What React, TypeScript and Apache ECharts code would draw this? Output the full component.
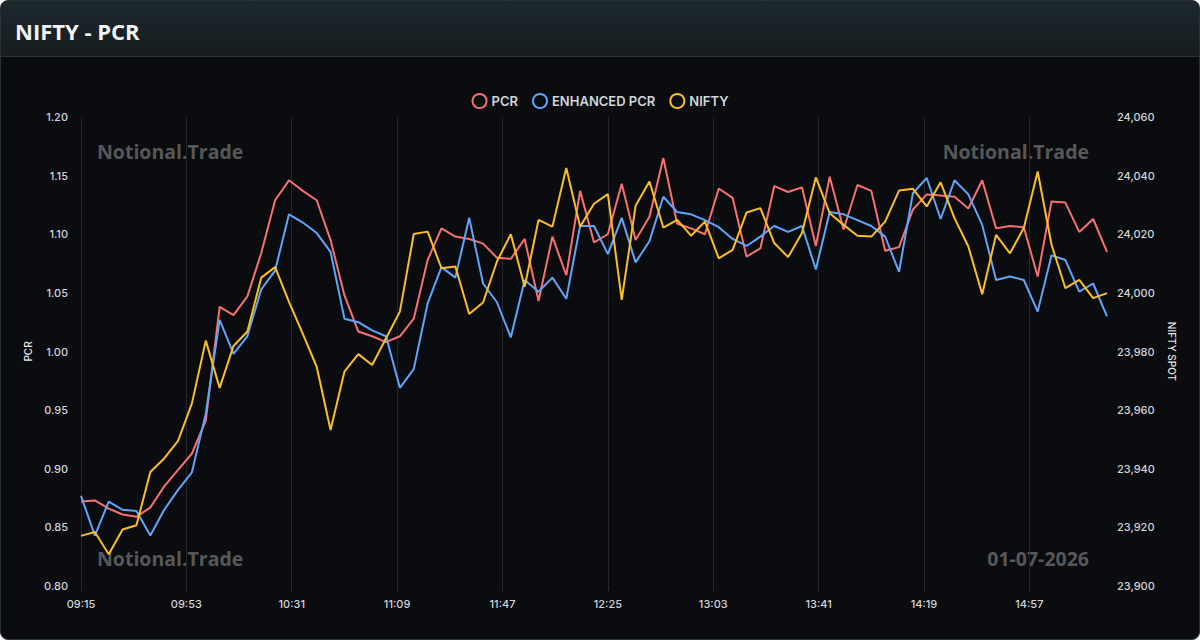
import React, { useEffect, useRef } from "react";
import * as echarts from "echarts";

// Sample times (5-minute snapshots through the session)
const TIMES = [
  "09:15", "09:20", "09:25", "09:30", "09:35", "09:40", "09:45", "09:50", "09:55", "10:00",
  "10:05", "10:10", "10:15", "10:20", "10:25", "10:30", "10:35", "10:40", "10:45", "10:50",
  "10:55", "11:00", "11:05", "11:10", "11:15", "11:20", "11:25", "11:30", "11:35", "11:40",
  "11:45", "11:50", "11:55", "12:00", "12:05", "12:10", "12:15", "12:20", "12:25", "12:30",
  "12:35", "12:40", "12:45", "12:50", "12:55", "13:00", "13:05", "13:10", "13:15", "13:20",
  "13:25", "13:30", "13:35", "13:40", "13:45", "13:50", "13:55", "14:00", "14:05", "14:10",
  "14:15", "14:20", "14:25", "14:30", "14:35", "14:40", "14:45", "14:50", "14:55", "15:00",
  "15:05", "15:10", "15:15", "15:20", "15:25",
];

const PCR = [
  0.872, 0.873, 0.866, 0.861, 0.859, 0.867, 0.885, 0.899, 0.913, 0.941,
  1.038, 1.031, 1.047, 1.084, 1.129, 1.146, 1.137, 1.129, 1.095, 1.048,
  1.017, 1.013, 1.008, 1.013, 1.028, 1.078, 1.105, 1.098, 1.096, 1.092,
  1.080, 1.079, 1.096, 1.043, 1.098, 1.065, 1.137, 1.093, 1.100, 1.143,
  1.095, 1.115, 1.165, 1.109, 1.105, 1.100, 1.139, 1.131, 1.081, 1.088,
  1.141, 1.136, 1.140, 1.090, 1.149, 1.104, 1.142, 1.137, 1.086, 1.089,
  1.121, 1.134, 1.133, 1.132, 1.122, 1.146, 1.105, 1.107, 1.106, 1.064,
  1.128, 1.127, 1.102, 1.113, 1.085,
];

const ENHANCED_PCR = [
  0.877, 0.843, 0.872, 0.865, 0.864, 0.843, 0.865, 0.882, 0.897, 0.947,
  1.027, 0.998, 1.013, 1.053, 1.069, 1.117, 1.110, 1.101, 1.085, 1.028,
  1.025, 1.018, 1.013, 0.969, 0.985, 1.041, 1.072, 1.063, 1.114, 1.058,
  1.042, 1.012, 1.061, 1.051, 1.063, 1.045, 1.107, 1.107, 1.083, 1.114,
  1.076, 1.094, 1.132, 1.119, 1.117, 1.112, 1.106, 1.096, 1.090, 1.098,
  1.107, 1.102, 1.107, 1.070, 1.119, 1.117, 1.112, 1.107, 1.098, 1.068,
  1.135, 1.148, 1.113, 1.146, 1.134, 1.108, 1.061, 1.064, 1.061, 1.034,
  1.082, 1.078, 1.051, 1.058, 1.030,
];

const NIFTY = [
  23917.1, 23918.4, 23910.8, 23919.3, 23920.7, 23938.9, 23943.5, 23949.5, 23962.3, 23983.7,
  23967.6, 23981.9, 23986.8, 24005.2, 24008.8, 23996.9, 23986.0, 23974.8, 23953.2, 23973.1,
  23979.1, 23975.4, 23984.5, 23993.6, 24020.1, 24020.9, 24008.4, 24009.0, 23992.8, 23996.7,
  24010.7, 24020.0, 24002.1, 24024.9, 24022.6, 24042.6, 24022.6, 24030.4, 24033.7, 23997.6,
  24029.7, 24038.0, 24022.3, 24024.9, 24019.5, 24024.3, 24011.8, 24014.7, 24027.4, 24028.9,
  24017.0, 24012.2, 24020.4, 24039.4, 24027.2, 24023.2, 24019.5, 24019.2, 24024.3, 24034.9,
  24035.5, 24029.5, 24037.7, 24025.5, 24015.8, 23999.5, 24019.8, 24013.5, 24022.1, 24041.4,
  24016.4, 24001.6, 24004.4, 23998.2, 23999.9,
];

// Session bounds for the minute-by-minute time axis
const SESSION_START = "09:15";
const SESSION_END = "15:25";

const PCR_TICKS = { min: 0.8, max: 1.2, interval: 0.05 };
const SPOT_TICKS = { min: 23900, max: 24060, interval: 20 };

const COLORS = { pcr: "#f87171", enhanced: "#60a5fa", nifty: "#fbbf24" };

const WATERMARK = "Notional.Trade";
const SESSION_DATE = "01-07-2026";

function toMinutes(t: string): number {
  const [h, m] = t.split(":").map(Number);
  return h * 60 + m;
}

function fmt(min: number): string {
  const h = Math.floor(min / 60);
  const m = min % 60;
  return `${String(h).padStart(2, "0")}:${String(m).padStart(2, "0")}`;
}

function minuteAxis(): string[] {
  const out: string[] = [];
  for (let t = toMinutes(SESSION_START); t <= toMinutes(SESSION_END); t++) out.push(fmt(t));
  return out;
}

const LABEL_FONT = "Inter, 'Noto Sans', sans-serif";
const MARK_FONT = "'Open Sans', 'Noto Sans', sans-serif";

function Chart() {
  const ref = useRef<HTMLDivElement>(null);

  useEffect(() => {
    if (!ref.current) return;
    const chart = echarts.init(ref.current, undefined, { renderer: "svg" });

    const pair = (vals: number[]) => TIMES.map((t, i) => [t, vals[i]]);
    const watermarkStyle = {
      fontFamily: MARK_FONT,
      fontWeight: 700,
      fontSize: 19.5,
      fill: "rgba(255,255,255,0.32)",
      textVerticalAlign: "middle",
    };

    chart.setOption({
      animation: false,
      backgroundColor: "transparent",
      textStyle: { fontFamily: LABEL_FONT },
      legend: {
        top: 88,
        left: "center",
        icon: "circle",
        itemWidth: 14,
        itemHeight: 14,
        itemGap: 14,
        textStyle: { color: "#d1d5db", fontSize: 13, fontWeight: 600, fontFamily: LABEL_FONT },
        data: [
          { name: "PCR", itemStyle: { color: "transparent", borderColor: COLORS.pcr, borderWidth: 2 } },
          { name: "ENHANCED PCR", itemStyle: { color: "transparent", borderColor: COLORS.enhanced, borderWidth: 2 } },
          { name: "NIFTY", itemStyle: { color: "transparent", borderColor: COLORS.nifty, borderWidth: 2 } },
        ],
      },
      grid: { left: 81, right: 93, top: 117, bottom: 54, containLabel: false },
      xAxis: {
        type: "category",
        boundaryGap: false,
        data: minuteAxis(),
        axisLine: { show: false },
        axisTick: { show: true, interval: 37, lineStyle: { color: "#272a30" } },
        axisLabel: {
          interval: 37,
          margin: 12,
          color: "#d1d5db",
          fontSize: 11,
          fontWeight: 500,
          fontFamily: LABEL_FONT,
        },
        splitLine: { show: true, interval: 37, lineStyle: { color: "#23262b", width: 1 } },
      },
      yAxis: [
        {
          type: "value",
          name: "PCR",
          nameLocation: "middle",
          nameGap: 47,
          nameRotate: 90,
          nameTextStyle: { color: "#e5e7eb", fontSize: 10, fontWeight: 500, fontFamily: LABEL_FONT },
          min: PCR_TICKS.min,
          max: PCR_TICKS.max,
          interval: PCR_TICKS.interval,
          axisLine: { show: false },
          axisTick: { show: false },
          splitLine: { show: false },
          axisLabel: {
            margin: 13,
            color: "#d1d5db",
            fontSize: 11,
            fontWeight: 500,
            fontFamily: LABEL_FONT,
            formatter: (v: number) => v.toFixed(2),
          },
        },
        {
          type: "value",
          name: "NIFTY SPOT",
          position: "right",
          nameLocation: "middle",
          nameGap: 60,
          nameRotate: -90,
          nameTextStyle: { color: "#e5e7eb", fontSize: 10, fontWeight: 500, fontFamily: LABEL_FONT },
          min: SPOT_TICKS.min,
          max: SPOT_TICKS.max,
          interval: SPOT_TICKS.interval,
          axisLine: { show: false },
          axisTick: { show: false },
          splitLine: { show: false },
          axisLabel: {
            margin: 10,
            color: "#d1d5db",
            fontSize: 11,
            fontWeight: 500,
            fontFamily: LABEL_FONT,
            formatter: (v: number) => v.toLocaleString("en-US"),
          },
        },
      ],
      series: [
        {
          name: "PCR",
          type: "line",
          yAxisIndex: 0,
          data: pair(PCR),
          showSymbol: false,
          lineStyle: { color: COLORS.pcr, width: 2 },
          itemStyle: { color: COLORS.pcr },
          z: 3,
        },
        {
          name: "ENHANCED PCR",
          type: "line",
          yAxisIndex: 0,
          data: pair(ENHANCED_PCR),
          showSymbol: false,
          lineStyle: { color: COLORS.enhanced, width: 2 },
          itemStyle: { color: COLORS.enhanced },
          z: 4,
        },
        {
          name: "NIFTY",
          type: "line",
          yAxisIndex: 1,
          data: pair(NIFTY),
          showSymbol: false,
          lineStyle: { color: COLORS.nifty, width: 2 },
          itemStyle: { color: COLORS.nifty },
          z: 5,
        },
      ],
      graphic: [
        { type: "text", x: 97, y: 151, silent: true, style: { ...watermarkStyle, text: WATERMARK, textAlign: "left" } },
        { type: "text", x: 1089, y: 151, silent: true, style: { ...watermarkStyle, text: WATERMARK, textAlign: "right" } },
        { type: "text", x: 97, y: 558, silent: true, style: { ...watermarkStyle, text: WATERMARK, textAlign: "left" } },
        { type: "text", x: 1089, y: 558, silent: true, style: { ...watermarkStyle, text: SESSION_DATE, textAlign: "right" } },
      ],
    });

    return () => chart.dispose();
  }, []);

  return <div ref={ref} style={{ position: "absolute", left: 0, top: 0, width: 1200, height: 640 }} />;
}

export default function App() {
  return (
    <div style={{ position: "fixed", left: 0, top: 0, width: 1200, height: 640, background: "#ffffff" }}>
      <div
        style={{
          position: "absolute",
          left: 0,
          top: 0,
          width: 1200,
          height: 640,
          boxSizing: "border-box",
          borderRadius: 8,
          border: "1px solid #2a3035",
          background: "#0b0c0f",
          overflow: "hidden",
        }}
      >
        <div
          style={{
            height: 56,
            boxSizing: "border-box",
            borderBottom: "1px solid #2a3034",
            background: "linear-gradient(180deg, #1b292d 0%, #171c20 100%)",
            display: "flex",
            alignItems: "center",
            paddingLeft: 14,
            paddingTop: 5,
            color: "#f3f4f6",
            fontFamily: MARK_FONT,
            fontWeight: 700,
            fontSize: 22,
          }}
        >
          NIFTY - PCR
        </div>
      </div>
      <Chart />
    </div>
  );
}
